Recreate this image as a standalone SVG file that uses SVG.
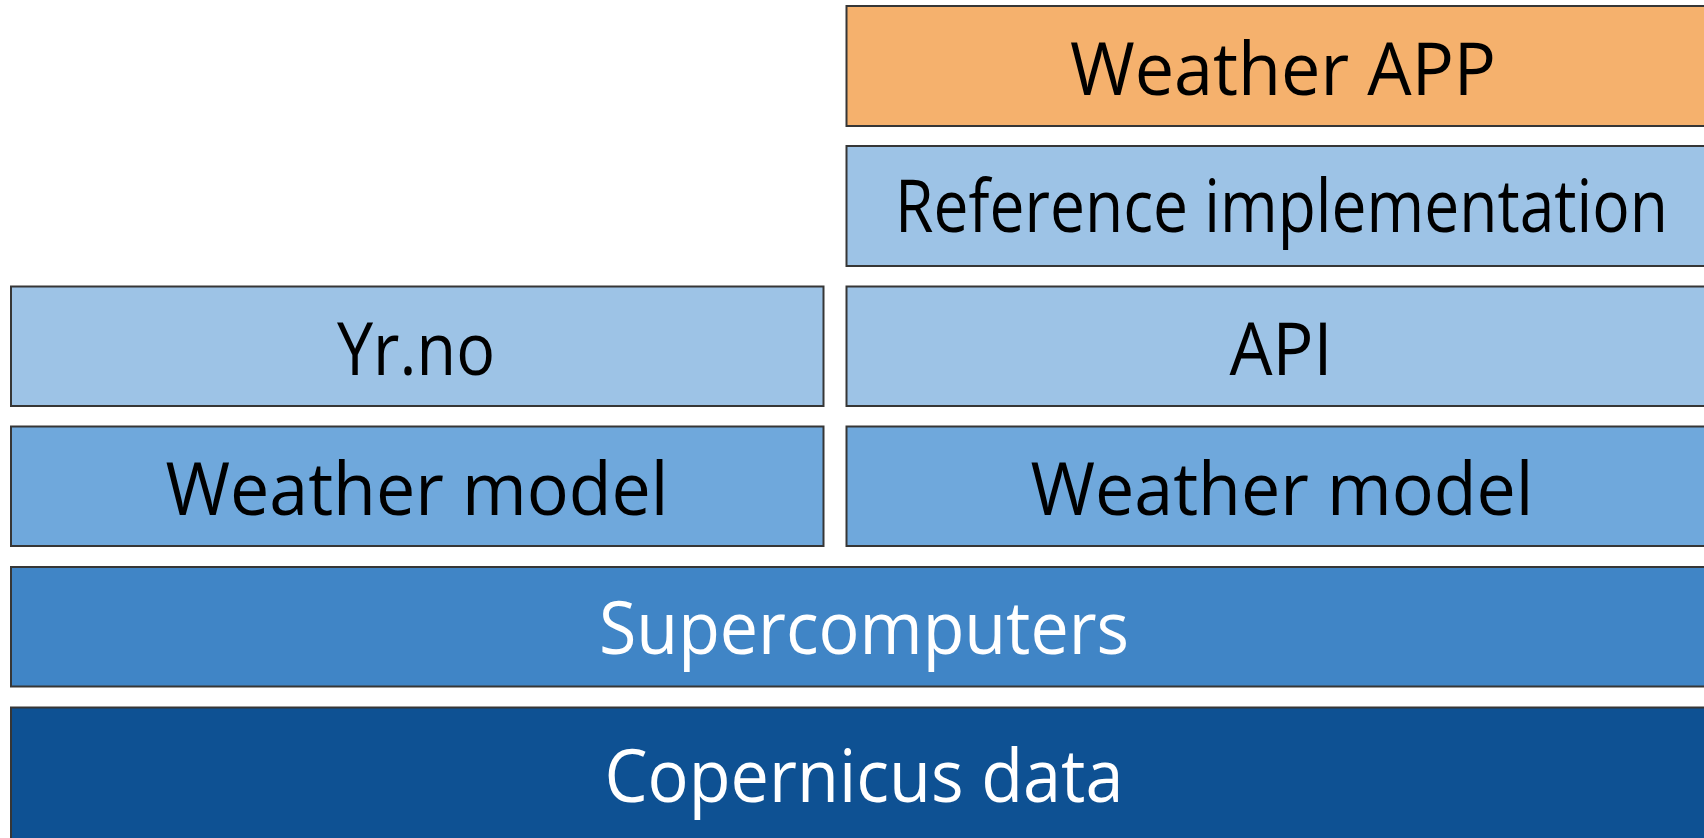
<svg xmlns="http://www.w3.org/2000/svg" width="1704" height="838" viewBox="0 0 1704 838">
<style>
rect.box{stroke:#363636;stroke-width:2}
.orange{fill:#F5B16D}
.light{fill:#9DC3E6}
.mid{fill:#6FA8DC}
.super{fill:#4085C6}
.dark{fill:#0E5193}
text{font-family:"Open Sans","Liberation Sans",sans-serif;font-size:73px;text-anchor:middle}
text.k{fill:#000}
text.w{fill:#fff}
</style>
<rect width="1704" height="838" fill="#fff"/>
<g id="weather-app">
<rect class="box orange" x="846.5" y="6" width="880" height="120"/>
<text class="k" x="1283" y="95" textLength="426" lengthAdjust="spacingAndGlyphs">Weather APP</text>
</g>
<g id="reference-implementation">
<rect class="box light" x="846.5" y="146" width="880" height="120"/>
<text class="k" x="1281.5" y="232" textLength="773" lengthAdjust="spacingAndGlyphs">Reference implementation</text>
</g>
<g id="yrno">
<rect class="box light" x="11" y="286.5" width="812.5" height="119.5"/>
<text class="k" x="416" y="375" textLength="158" lengthAdjust="spacingAndGlyphs">Yr.no</text>
</g>
<g id="api">
<rect class="box light" x="846.5" y="286.5" width="880" height="119.5"/>
<text class="k" x="1281" y="375" textLength="103" lengthAdjust="spacingAndGlyphs">API</text>
</g>
<g id="weather-model-left">
<rect class="box mid" x="11" y="426.5" width="812.5" height="119.5"/>
<text class="k" x="417" y="515" textLength="503" lengthAdjust="spacingAndGlyphs">Weather model</text>
</g>
<g id="weather-model-right">
<rect class="box mid" x="846.5" y="426.5" width="880" height="119.5"/>
<text class="k" x="1282" y="515" textLength="503" lengthAdjust="spacingAndGlyphs">Weather model</text>
</g>
<g id="supercomputers">
<rect class="box super" x="11" y="567" width="1720" height="119.5"/>
<text class="w" x="864" y="654" textLength="530" lengthAdjust="spacingAndGlyphs">Supercomputers</text>
</g>
<g id="copernicus-data">
<rect class="box dark" x="11" y="707.5" width="1720" height="150"/>
<text class="w" x="864" y="802" textLength="519" lengthAdjust="spacingAndGlyphs">Copernicus data</text>
</g>
<g id="connectors"></g>
</svg>
